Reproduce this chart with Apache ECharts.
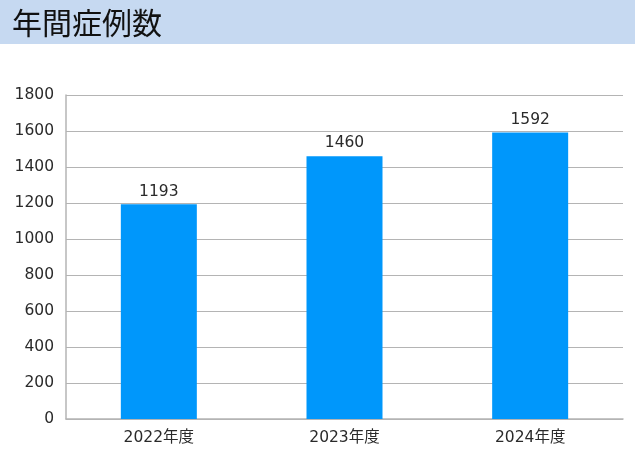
<!DOCTYPE html>
<html><head><meta charset="utf-8">
<script src="https://cdn.jsdelivr.net/npm/echarts@6/dist/echarts.min.js"></script>
<style>html,body{margin:0;padding:0;background:#fff}#c{width:635px;height:468px}</style>
</head><body><div id="c"></div>
<script>
const categories = ['2022年度', '2023年度', '2024年度'];
const values = [1193, 1460, 1592];
const yTicks = { min: 0, max: 1800, interval: 200 };
const titleText = '年間症例数';

const chart = echarts.init(document.getElementById('c'));
const font = '"DejaVu Sans", "Noto Sans CJK JP", sans-serif';
chart.setOption({
  animation: false,
  graphic: [{
    type: 'rect', left: 0, top: 0, z: -1,
    shape: { width: 635, height: 44 },
    style: { fill: '#c6d9f1' }
  }],
  title: {
    text: titleText, left: 7, top: 3,
    textStyle: { fontFamily: '"Noto Sans CJK JP", sans-serif', fontSize: 30, fontWeight: 'normal', color: '#111' }
  },
  grid: { left: 66, right: 12, top: 95, bottom: 49 },
  xAxis: {
    type: 'category', data: categories,
    axisLine: { lineStyle: { color: '#b4b4b4', width: 1.5 } },
    axisTick: { show: false },
    axisLabel: { fontFamily: font, fontSize: 15.5, color: '#2a2a2a', margin: 11 }
  },
  yAxis: {
    type: 'value', min: yTicks.min, max: yTicks.max, interval: yTicks.interval,
    axisLine: { show: true, lineStyle: { color: '#b4b4b4', width: 1.5 } },
    axisTick: { show: false },
    splitLine: { lineStyle: { color: '#b4b4b4', width: 1.2 } },
    axisLabel: { fontFamily: font, fontSize: 15.5, color: '#2a2a2a', margin: 12, formatter: v => String(v) }
  },
  series: [{
    type: 'bar', data: values, barWidth: 76,
    itemStyle: { color: '#0097fb' },
    label: { show: true, position: 'top', fontFamily: font, fontSize: 15.5, color: '#2a2a2a', distance: 5 }
  }]
});
</script></body></html>
